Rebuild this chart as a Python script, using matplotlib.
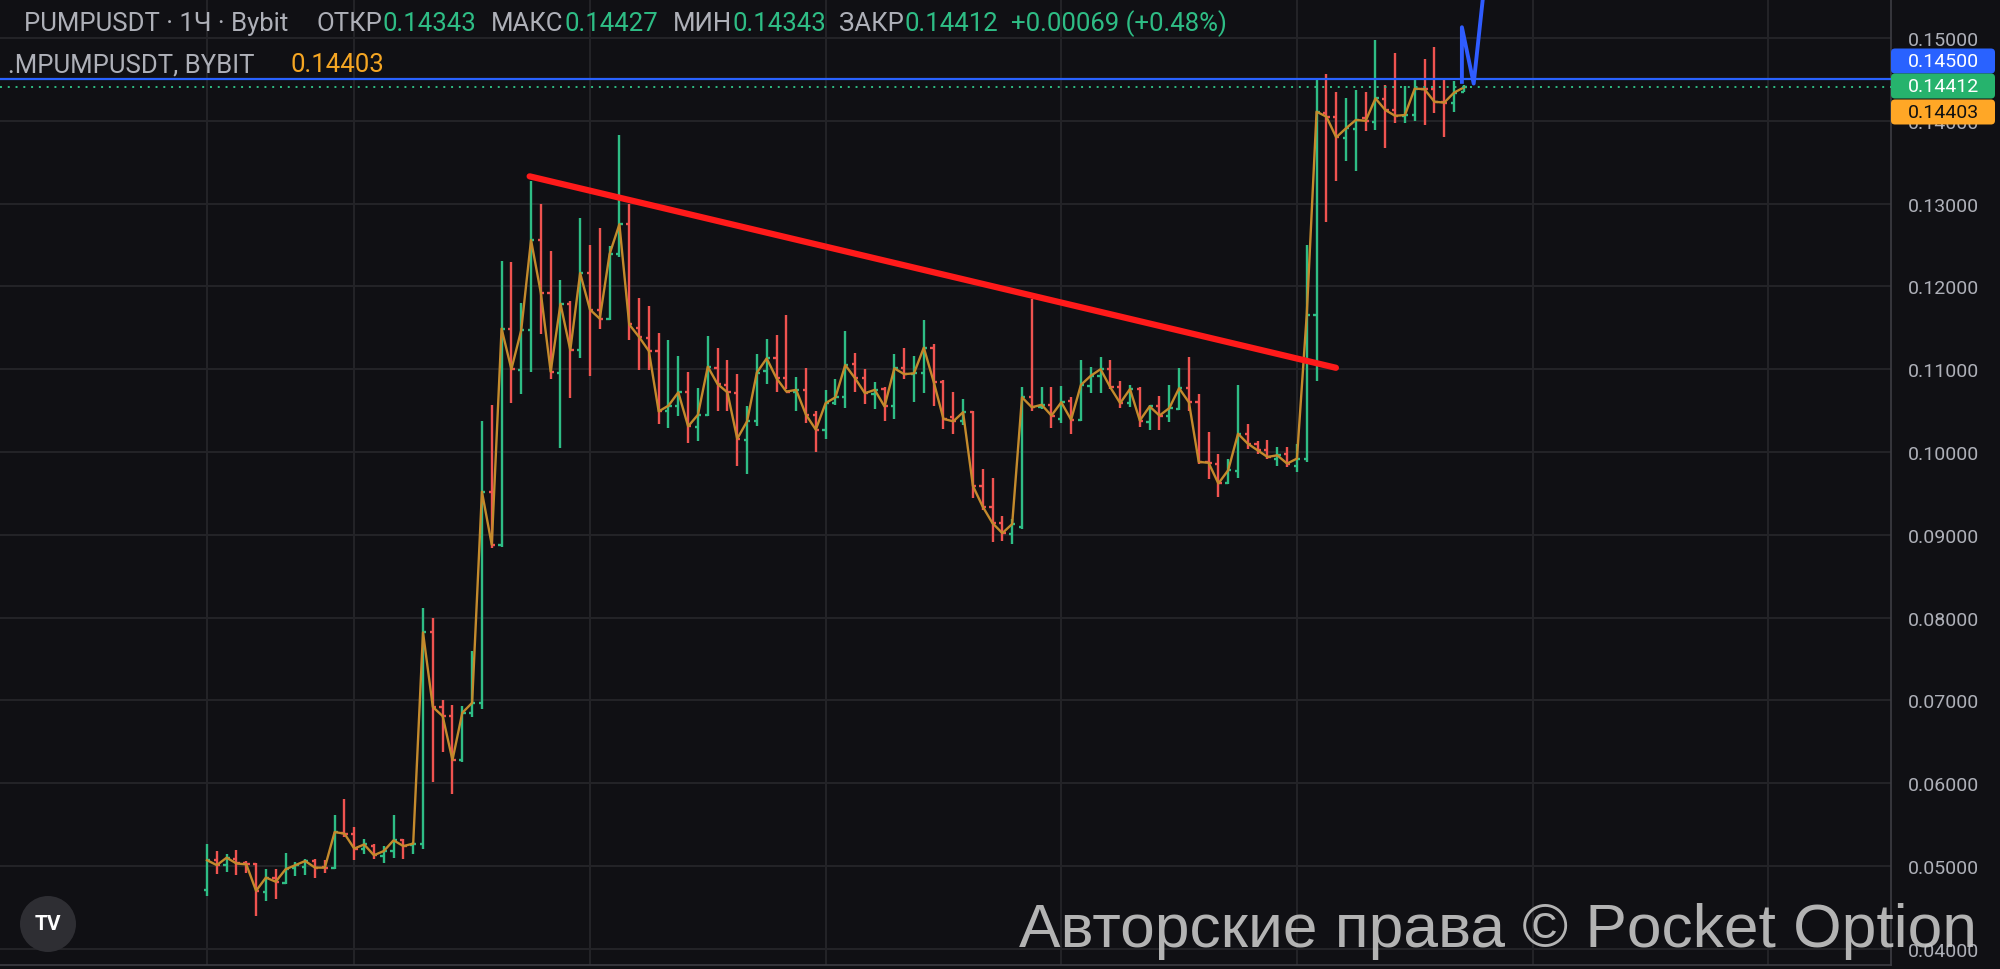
import matplotlib
matplotlib.use('Agg')
import matplotlib.pyplot as plt
import numpy as np
from matplotlib.patches import FancyBboxPatch, Circle
from matplotlib.transforms import IdentityTransform

# hourly OHLC bars, PUMPUSDT (Bybit)
opens = [0.0471, 0.0507, 0.0501, 0.0508, 0.0503, 0.0502, 0.0468, 0.0485, 0.0479, 0.0498,
         0.0499, 0.0506, 0.0499, 0.0497, 0.0540, 0.0539, 0.0520, 0.0524, 0.0512, 0.0518,
         0.0531, 0.0525, 0.0527, 0.0782, 0.0692, 0.0681, 0.0628, 0.0685, 0.0697, 0.0952,
         0.0888, 0.1149, 0.1099, 0.1147, 0.1256, 0.1192, 0.1096, 0.1179, 0.1123, 0.1216,
         0.1172, 0.1161, 0.1239, 0.1275, 0.1150, 0.1138, 0.1122, 0.1049, 0.1056, 0.1072,
         0.1030, 0.1045, 0.1101, 0.1081, 0.1071, 0.1015, 0.1037, 0.1098, 0.1113, 0.1089,
         0.1073, 0.1075, 0.1045, 0.1027, 0.1059, 0.1066, 0.1106, 0.1089, 0.1070, 0.1076,
         0.1055, 0.1101, 0.1094, 0.1095, 0.1125, 0.1085, 0.1042, 0.1037, 0.1048, 0.0959,
         0.0934, 0.0914, 0.0901, 0.0909, 0.1066, 0.1054, 0.1057, 0.1040, 0.1062, 0.1039,
         0.1080, 0.1092, 0.1100, 0.1078, 0.1059, 0.1076, 0.1036, 0.1055, 0.1043, 0.1052,
         0.1077, 0.1060, 0.0988, 0.0986, 0.0962, 0.0977, 0.1022, 0.1010, 0.1003, 0.0992,
         0.0997, 0.0983, 0.0992, 0.1166, 0.1409, 0.1405, 0.1379, 0.1390, 0.1403, 0.1399,
         0.1426, 0.1413, 0.1406, 0.1407, 0.1439, 0.1438, 0.1423, 0.1422, 0.14343]
highs = [0.0526, 0.0518, 0.0515, 0.0519, 0.0506, 0.0503, 0.0496, 0.0496, 0.0516, 0.0505,
         0.0509, 0.0508, 0.0507, 0.0562, 0.0581, 0.0547, 0.0533, 0.0527, 0.0524, 0.0561,
         0.0533, 0.0529, 0.0812, 0.0800, 0.0700, 0.0694, 0.0693, 0.0760, 0.1038, 0.1057,
         0.1231, 0.1229, 0.1180, 0.1327, 0.1299, 0.1243, 0.1208, 0.1182, 0.1282, 0.1250,
         0.1271, 0.1249, 0.1383, 0.1300, 0.1186, 0.1176, 0.1144, 0.1135, 0.1116, 0.1097,
         0.1077, 0.1140, 0.1126, 0.1111, 0.1094, 0.1055, 0.1118, 0.1137, 0.1141, 0.1166,
         0.1091, 0.1101, 0.1049, 0.1075, 0.1088, 0.1146, 0.1119, 0.1100, 0.1085, 0.1078,
         0.1118, 0.1125, 0.1116, 0.1159, 0.1131, 0.1087, 0.1072, 0.1064, 0.1050, 0.0979,
         0.0968, 0.0923, 0.0919, 0.1079, 0.1185, 0.1079, 0.1079, 0.1080, 0.1066, 0.1111,
         0.1103, 0.1115, 0.1111, 0.1086, 0.1081, 0.1078, 0.1057, 0.1068, 0.1081, 0.1101,
         0.1115, 0.1070, 0.1024, 0.0997, 0.0992, 0.1081, 0.1034, 0.1013, 0.1014, 0.1006,
         0.1006, 0.1010, 0.1250, 0.1452, 0.1456, 0.1435, 0.1427, 0.1437, 0.1435, 0.1498,
         0.1443, 0.1482, 0.1442, 0.1449, 0.1475, 0.1489, 0.1450, 0.1448, 0.14427]
lows = [0.0464, 0.0490, 0.0493, 0.0489, 0.0492, 0.0440, 0.0458, 0.0460, 0.0478, 0.0488,
        0.0489, 0.0486, 0.0491, 0.0496, 0.0535, 0.0507, 0.0515, 0.0508, 0.0504, 0.0510,
        0.0508, 0.0515, 0.0520, 0.0601, 0.0638, 0.0587, 0.0625, 0.0680, 0.0690, 0.0884,
        0.0885, 0.1059, 0.1070, 0.1097, 0.1142, 0.1088, 0.1005, 0.1065, 0.1114, 0.1092,
        0.1149, 0.1159, 0.1236, 0.1135, 0.1099, 0.1099, 0.1034, 0.1029, 0.1043, 0.1011,
        0.1013, 0.1044, 0.1049, 0.1050, 0.0983, 0.0973, 0.1031, 0.1082, 0.1073, 0.1076,
        0.1050, 0.1035, 0.1000, 0.1016, 0.1057, 0.1053, 0.1073, 0.1058, 0.1052, 0.1038,
        0.1040, 0.1088, 0.1060, 0.1071, 0.1056, 0.1028, 0.1022, 0.1032, 0.0944, 0.0930,
        0.0891, 0.0893, 0.0889, 0.0907, 0.1050, 0.1052, 0.1029, 0.1035, 0.1022, 0.1037,
        0.1071, 0.1071, 0.1076, 0.1053, 0.1054, 0.1030, 0.1026, 0.1026, 0.1036, 0.1051,
        0.1050, 0.0986, 0.0967, 0.0946, 0.0961, 0.0968, 0.1004, 0.0998, 0.0992, 0.0983,
        0.0982, 0.0976, 0.0988, 0.1086, 0.1278, 0.1327, 0.1352, 0.1339, 0.1388, 0.1389,
        0.1367, 0.1397, 0.1397, 0.1400, 0.1395, 0.1410, 0.1380, 0.1411, 0.14343]
closes = [0.0507, 0.0501, 0.0510, 0.0503, 0.0502, 0.0470, 0.0486, 0.0481, 0.0496, 0.0501,
          0.0506, 0.0498, 0.0498, 0.0541, 0.0539, 0.0521, 0.0526, 0.0513, 0.0518, 0.0531,
          0.0524, 0.0527, 0.0782, 0.0692, 0.0681, 0.0628, 0.0685, 0.0697, 0.0952, 0.0888,
          0.1149, 0.1100, 0.1147, 0.1256, 0.1192, 0.1097, 0.1179, 0.1123, 0.1216, 0.1172,
          0.1161, 0.1239, 0.1275, 0.1154, 0.1139, 0.1122, 0.1049, 0.1056, 0.1072, 0.1031,
          0.1045, 0.1103, 0.1082, 0.1072, 0.1016, 0.1037, 0.1096, 0.1113, 0.1089, 0.1073,
          0.1075, 0.1045, 0.1027, 0.1059, 0.1066, 0.1105, 0.1089, 0.1071, 0.1075, 0.1055,
          0.1101, 0.1094, 0.1095, 0.1126, 0.1085, 0.1040, 0.1037, 0.1048, 0.0959, 0.0934,
          0.0914, 0.0902, 0.0913, 0.1066, 0.1054, 0.1057, 0.1044, 0.1060, 0.1039, 0.1081,
          0.1092, 0.1100, 0.1078, 0.1059, 0.1076, 0.1038, 0.1055, 0.1044, 0.1053, 0.1077,
          0.1060, 0.0988, 0.0987, 0.0962, 0.0978, 0.1022, 0.1010, 0.1002, 0.0994, 0.0996,
          0.0986, 0.0992, 0.1166, 0.1411, 0.1405, 0.1380, 0.1391, 0.1401, 0.1400, 0.1427,
          0.1413, 0.1406, 0.1407, 0.1439, 0.1438, 0.1423, 0.1422, 0.1434, 0.14412]
mark_last = 0.14403

# bar index where each day starts (vertical grid)
day_starts = [0, 15, 39, 63, 87, 111, 135, 159]
price_ticks = [0.04, 0.05, 0.06, 0.07, 0.08, 0.09, 0.10, 0.11, 0.12, 0.13, 0.14, 0.15]

# user drawings
trend_x = [32.86, 114.97]
trend_y = [0.13329, 0.11017]
alert_level = 0.145
zig_x = [127.8, 127.8, 129.0, 130.0]
zig_y = [0.1447, 0.1513, 0.1445, 0.1555]

BG = '#101014'
GRID = '#232327'
GREY = '#aeb0b8'
GREEN = '#2ebd85'
RED = '#ef5350'
ORANGE_LINE = '#c48a2c'
W, H = 2000, 970

plt.rcParams['font.family'] = ['Roboto', 'DejaVu Sans']

fig = plt.figure(figsize=(W / 100, H / 100), dpi=100, facecolor=BG)
ax = fig.add_axes([0, 4 / H, 1891 / W, 966 / H], facecolor=BG)
ax.set_xlim(-21.08, 171.5)
ax.set_ylim(0.03804, 0.15471)

x = np.arange(len(closes))
o = np.array(opens)
hi = np.array(highs)
lo = np.array(lows)
c = np.array(closes)
cols = [GREEN if cc >= oo else RED for oo, cc in zip(o, c)]

ax.vlines(x, lo, hi, colors=cols, lw=1.7, zorder=2)
ax.hlines(o, x - 0.33, x, colors=cols, lw=1.7, zorder=2)
ax.hlines(c, x, x + 0.33, colors=cols, lw=1.7, zorder=2)

mark = list(closes[:-1]) + [mark_last]
ax.plot(x, mark, color=ORANGE_LINE, lw=1.7, zorder=3)

ax.plot(trend_x, trend_y, color='#ff1a1a', lw=4.5, solid_capstyle='round', zorder=4)
ax.axhline(alert_level, color='#2962ff', lw=1.6, zorder=4)
ax.axhline(closes[-1], color=GREEN, lw=1.4, ls=(0, (1, 3)), zorder=4)
ax.plot(zig_x, zig_y, color='#2f5cff', lw=2.8, zorder=4)

ax.set_yticks(price_ticks)
ax.set_yticklabels([f'{v:.5f}' for v in price_ticks])
ax.yaxis.tick_right()
ax.tick_params(axis='y', length=0, pad=12, labelsize=14, labelcolor=GREY)
ax.set_xticks(day_starts)
ax.tick_params(axis='x', length=0, labelbottom=False)
ax.grid(True, color=GRID, lw=1.5, zorder=0)
ax.set_axisbelow(True)
for side in ['top', 'left']:
    ax.spines[side].set_visible(False)
ax.spines['right'].set_color('#3d3d43')
ax.spines['bottom'].set_color('#3d3d43')
ax.spines['right'].set_linewidth(1.2)
ax.spines['bottom'].set_linewidth(1.2)

# price badges on the right scale
badges = [(62, f'{alert_level:.5f}', '#2962ff', 'white'),
          (87, f'{closes[-1]:.5f}', '#26b36d', 'white'),
          (113, f'{mark_last:.5f}', '#ffa726', '#111111')]
for yc, txt, fc, tc in badges:
    p = FancyBboxPatch((1891, H - yc - 12.5), 104, 25,
                       boxstyle='round,pad=0,rounding_size=4',
                       transform=IdentityTransform(), fc=fc, ec='none', zorder=20)
    fig.add_artist(p)
    fig.text(1908 / W, 1 - yc / H, txt, color=tc, fontsize=14, va='center', ha='left', zorder=21)

# legend header
row1 = [(24, 'PUMPUSDT · 1Ч · Bybit', GREY), (317, 'ОТКР', GREY), (383, f'{opens[-1]:.5f}', GREEN),
        (491, 'МАКС', GREY), (564, f'{highs[-1]:.5f}', GREEN), (673, 'МИН', GREY),
        (732, f'{lows[-1]:.5f}', GREEN), (839, 'ЗАКР', GREY), (904, f'{closes[-1]:.5f}', GREEN),
        (1011, '+0.00069 (+0.48%)', GREEN)]
for xp, txt, col in row1:
    fig.text(xp / W, 1 - 24 / H, txt, color=col, fontsize=18.5, va='center', ha='left')
fig.text(8 / W, 1 - 65 / H, '.MPUMPUSDT, BYBIT', color=GREY, fontsize=18.5, va='center', ha='left')
fig.text(290 / W, 1 - 65 / H, f'{mark_last:.5f}', color='#f5a623', fontsize=18.5, va='center', ha='left')

# TradingView logo
fig.add_artist(Circle((48, H - 925), 28, transform=IdentityTransform(), fc='#2e2e33', ec='none', zorder=20))
fig.text(48 / W, 1 - 925 / H, 'TV', color='white', fontsize=15, fontweight='bold',
         va='center', ha='center', zorder=21)

# watermark
fig.text(1977 / W, 1 - 947 / H, 'Авторские права © Pocket Option', family='Liberation Sans',
         color='#c6c6c6', alpha=0.9, fontsize=44.8, ha='right', va='baseline', zorder=30)

fig.savefig('out.png', dpi=100, facecolor=BG)
